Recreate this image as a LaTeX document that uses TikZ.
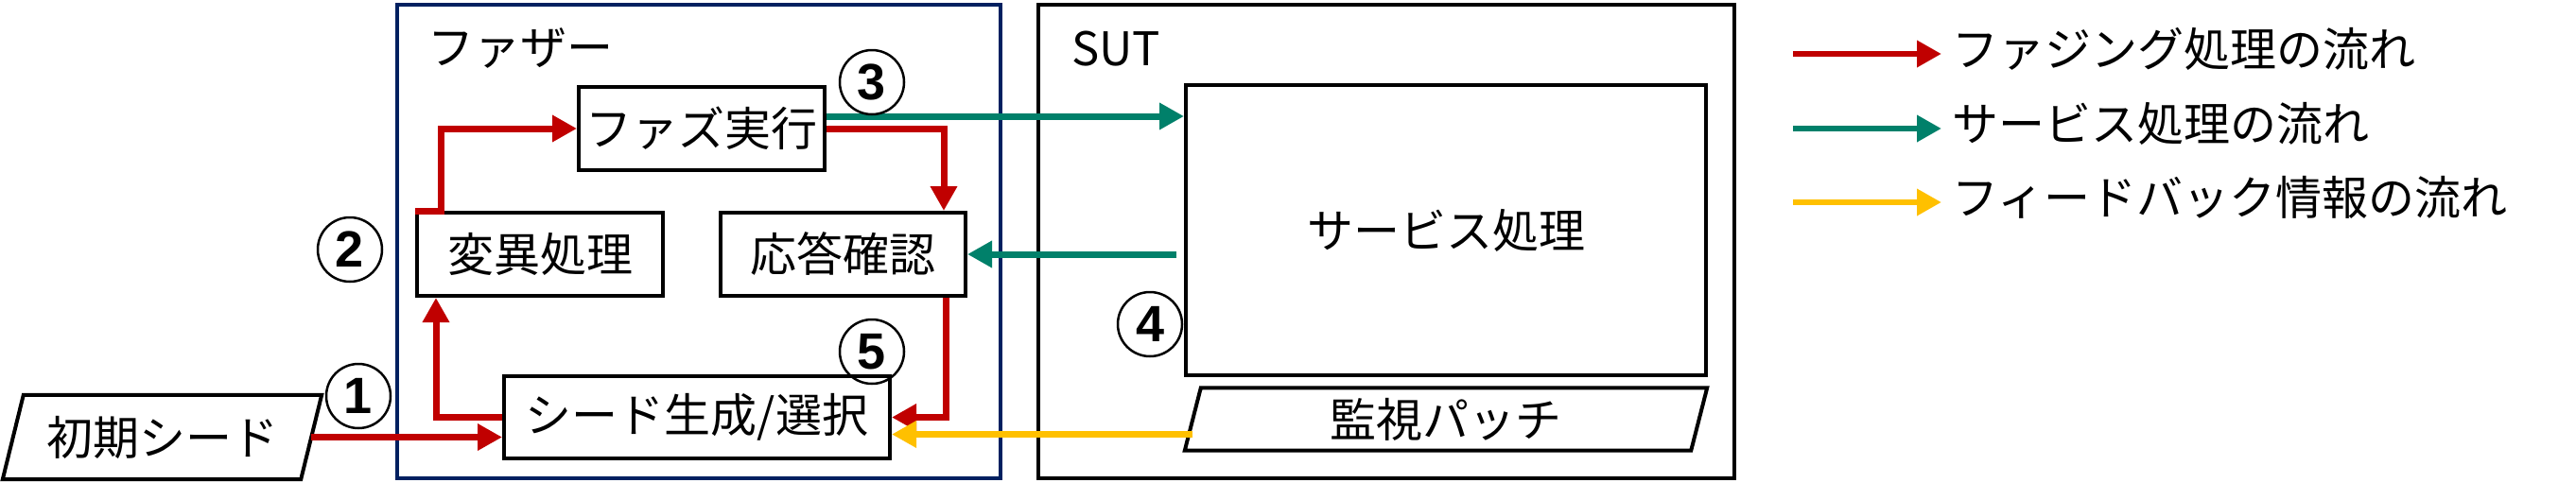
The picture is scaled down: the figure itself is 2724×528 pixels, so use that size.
\documentclass[tikz,border=0pt]{standalone}
\usepackage{fontspec}
\setmainfont{Noto Sans CJK JP}
\newfontfamily\numfont{Liberation Sans}
\usetikzlibrary{arrows.meta,calc}
\definecolor{flowred}{RGB}{192,0,0}
\definecolor{flowteal}{RGB}{0,128,106}
\definecolor{flowyel}{RGB}{255,192,0}
\definecolor{fznavy}{RGB}{0,32,96}
\begin{document}
\begin{tikzpicture}[x=1pt,y=-1pt,
  txt/.style={font=\fontsize{49}{56}\selectfont, inner sep=0pt},
  box/.style={draw, line width=4pt, txt},
  container/.style={line width=4pt, line join=miter},
  circ/.style={circle, draw, line width=2.5pt, minimum size=68pt, inner sep=0pt,
    font=\numfont\bfseries\fontsize{54}{60}\selectfont},
  arr/.style={line width=7pt, -{Triangle[length=26pt,width=27pt]}},
  redarr/.style={arr, draw=flowred},
  tealarr/.style={arr, draw=flowteal},
  yelarr/.style={arr, draw=flowyel}]
\useasboundingbox[fill=white] (0,0) rectangle (2724,528);

% containers
\draw[container, draw=fznavy] (420,5) rectangle (1058,506);
\draw[container, draw=black] (1098,5) rectangle (1834,506);
\node[txt, anchor=base west] (fzlabel) at (452,68) {ファザー};
\node[txt, anchor=base west] (sutlabel) at (1133,69) {SUT};

% boxes
\node[box, minimum width=260pt, minimum height=88pt] (fuzz) at (742,136) {ファズ実行};
\node[box, minimum width=260pt, minimum height=88pt] (mut) at (571,269) {変異処理};
\node[box, minimum width=259pt, minimum height=88pt] (check) at (891.5,269) {応答確認};
\node[box, minimum width=408pt, minimum height=87pt] (seed) at (737,441.5) {シード生成/選択};
\node[box, minimum width=550pt, minimum height=307pt] (svc) at (1529,243.5) {サービス処理};

% parallelograms
\node[txt, minimum width=315pt, minimum height=89pt] (init) at (171.5,462.5) {初期シード};
\draw[line width=4pt, line join=miter] ([xshift=11pt]init.north west) -- ([xshift=11pt]init.north east)
  -- ([xshift=-11pt]init.south east) -- ([xshift=-11pt]init.south west) -- cycle;
\node[txt, minimum width=535pt, minimum height=66pt] (patch) at (1529,443.5) {監視パッチ};
\draw[line width=4pt, line join=miter] ([xshift=8.5pt]patch.north west) -- ([xshift=8.5pt]patch.north east)
  -- ([xshift=-8.5pt]patch.south east) -- ([xshift=-8.5pt]patch.south west) -- cycle;

% red flow
\draw[redarr] (mut.north west) -- ++(27,0) |- (fuzz.west);
\draw[redarr] (fuzz.east) -| ([xshift=-25pt]check.north east);
\draw[redarr] ([xshift=-23pt]check.south east) |- (seed.east);
\draw[redarr] (seed.west) -| ([xshift=22pt]mut.south west);
\draw[redarr] (init.east) -- (init.east -| seed.west);

% teal flow
\draw[tealarr] ([yshift=13pt]fuzz.east) -- ([yshift=13pt]fuzz.east -| svc.west);
\draw[tealarr, shorten <=8pt] (check.east -| svc.west) -- (check.east);

% yellow flow
\draw[yelarr] ([yshift=-16pt]patch.west) -- ([yshift=-16pt]patch.west -| seed.east);

% circled numbers
\node[circ] (n1) at (379,419) {1};
\node[circ] (n2) at (370,264) {2};
\node[circ] (n3) at (922,87) {3};
\node[circ] (n4) at (1216,343) {4};
\node[circ] (n5) at (922,372) {5};

% legend
\node[txt, anchor=west] (t1) at (2064,52) {ファジング処理の流れ};
\node[txt, anchor=west] (t2) at (2064,131) {サービス処理の流れ};
\node[txt, anchor=west] (t3) at (2064,209) {フィードバック情報の流れ};
\coordinate (l1) at (1896,57);
\coordinate (l2) at (1896,136);
\coordinate (l3) at (1896,214);
\draw[redarr, line width=6.5pt, shorten >=11pt] (l1) -- (l1 -| t1.west);
\draw[tealarr, line width=6.5pt, shorten >=11pt] (l2) -- (l2 -| t2.west);
\draw[yelarr, line width=6.5pt, shorten >=11pt] (l3) -- (l3 -| t3.west);
\end{tikzpicture}
\end{document}
